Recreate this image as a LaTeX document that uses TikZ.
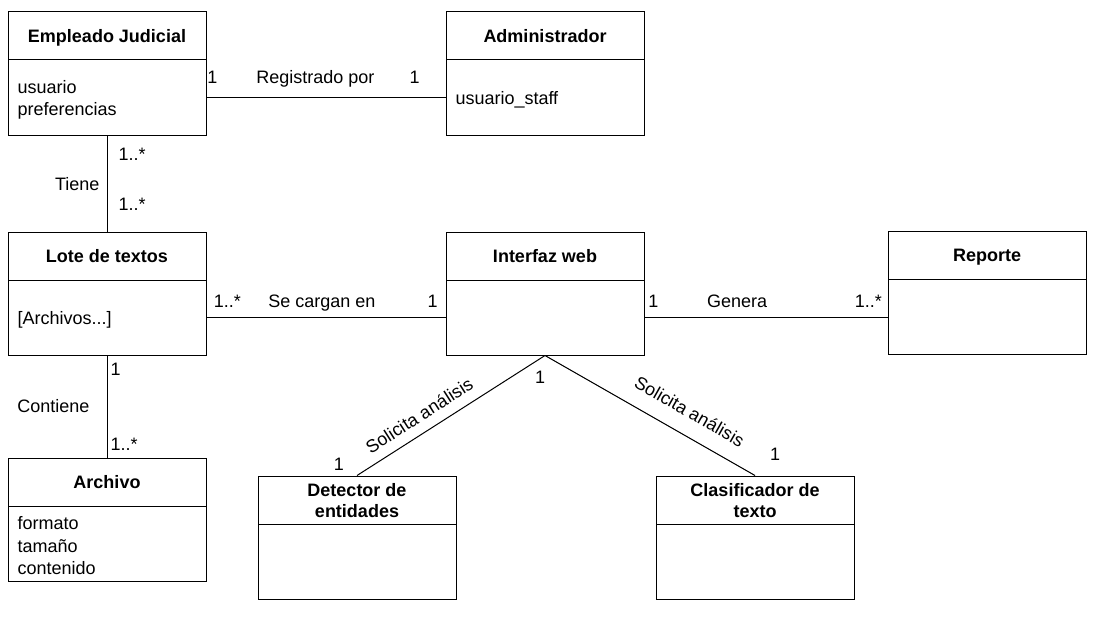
\documentclass[tikz,border=0pt]{standalone}
\usepackage{fontspec}
\setmainfont{Liberation Sans}
\usepackage{tikz}

% class box: name, left x, top y, title, attributes
\newcommand{\umlclass}[5]{%
    \node[classbox] (#1) at (#2+99,#3+61.5) {};
    \node[classtitle] (#1-title) at (#2+99,#3+24) {#4};
    \draw (#2,#3+48) -- (#2+198,#3+48);
    \coordinate (#1-mid) at (#2+99,#3+85.5);
    \node[classattr] (#1-attr) at (#2+9,#3+88) {#5};
}

\begin{document}
\begin{tikzpicture}[x=1pt, y=-1pt, line width=1pt,
    every node/.style={font=\fontsize{18}{22.5}\selectfont},
    classbox/.style={draw, rectangle, minimum width=198pt, minimum height=123pt, inner sep=0pt},
    classtitle/.style={font=\fontsize{18}{21}\selectfont\bfseries, align=center, inner sep=0pt, text depth=0pt},
    classattr/.style={anchor=west, align=left, inner sep=0pt},
    lbl/.style={inner sep=0pt, anchor=base},
    slbl/.style={sloped, anchor=south, inner sep=0pt}]
    \useasboundingbox (0,0) rectangle (1102,626);

    \umlclass{emp}{8}{12}{Empleado Judicial}{usuario\\preferencias}
    \umlclass{adm}{446}{12}{Administrador}{usuario\_staff}
    \umlclass{lote}{8}{232}{Lote de textos}{[Archivos...]}
    \umlclass{web}{446}{232}{Interfaz web}{}
    \umlclass{rep}{888}{231}{Reporte}{}
    \umlclass{arch}{8}{458}{Archivo}{formato\\tamaño\\contenido}
    \umlclass{det}{258}{476}{Detector de\\entidades}{}
    \umlclass{cla}{656}{476}{Clasificador de\\texto}{}

    % associations
    \draw (emp.east |- emp-mid) -- node[lbl, pos=0.025, yshift=14pt] (emp-m) {1}
        node[lbl, pos=0.456, yshift=14pt] (reg) {Registrado por}
        node[lbl, pos=0.871, yshift=14pt] (adm-m) {1} (adm.west |- emp-mid);
    \draw (emp.south) -- node[lbl, anchor=base west, pos=0.258, xshift=11pt] (emp-m2) {1..*}
        node[lbl, anchor=base east, pos=0.577, xshift=-7pt] (tiene) {Tiene}
        node[lbl, anchor=base west, pos=0.784, xshift=11pt] (lote-m) {1..*} (lote.north);
    \draw (lote.east |- lote-mid) -- node[lbl, pos=0.0875, yshift=10pt] (lote-m2) {1..*}
        node[lbl, pos=0.483, yshift=10pt] (carga) {Se cargan en}
        node[lbl, pos=0.946, yshift=10pt] (web-m) {1} (web.west |- lote-mid);
    \draw (web.east |- web-mid) -- node[lbl, pos=0.037, yshift=10pt] (web-m2) {1}
        node[lbl, pos=0.381, yshift=10pt] (genera) {Genera}
        node[lbl, pos=0.921, yshift=10pt] (rep-m) {1..*} (rep.west |- web-mid);
    \draw (lote.south) -- node[lbl, anchor=base west, pos=0.194, xshift=3pt] (lote-m3) {1}
        node[lbl, anchor=base east, pos=0.563, xshift=-17pt] (contiene) {Contiene}
        node[lbl, anchor=base west, pos=0.932, xshift=3pt] (arch-m) {1..*} (arch.north);
    \draw (web.south) -- node[lbl, pos=0, xshift=-5pt, yshift=-28pt] (web-m3) {1}
        node[slbl, pos=0.62, inner ysep=10pt] (sol1) {Solicita análisis}
        node[lbl, pos=1, xshift=-18pt, yshift=5pt] (det-m) {1} (det.north);
    \draw (web.south) -- node[slbl, pos=0.634, inner ysep=16pt] (sol2) {Solicita análisis}
        node[lbl, pos=1, xshift=20pt, yshift=15pt] (cla-m) {1} (cla.north);
\end{tikzpicture}
\end{document}
